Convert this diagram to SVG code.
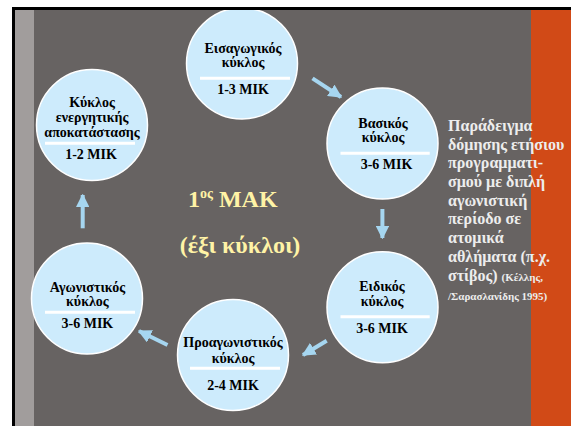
<svg xmlns="http://www.w3.org/2000/svg" width="571" height="426" viewBox="0 0 571 426">
<defs>
<style>
.node circle{fill:#CDEBFC;stroke:#FFFFFF;stroke-width:1.5}
.node line{stroke:#FFFFFF;stroke-width:3}
.nt{font-family:'Liberation Serif','DejaVu Serif',serif;font-weight:bold;font-size:14px;fill:#000;text-anchor:middle}
.ct{font-family:'Liberation Serif','DejaVu Serif',serif;font-weight:bold;fill:#FFF3A6}
.rt{font-family:'Liberation Serif','DejaVu Serif',serif;font-weight:bold;font-size:16px;fill:#EDEDED}
.rs{font-size:11px}
.conn line{stroke:#A6D6F0;stroke-width:4}
</style>
<marker id="ah" viewBox="0 0 10 10" refX="9" refY="5" markerWidth="3.4" markerHeight="3.4" orient="auto" markerUnits="strokeWidth">
<path d="M0,0 L10,5 L0,10 Z" fill="#A6D6F0"/>
</marker>
</defs>
<rect x="0" y="0" width="571" height="426" fill="#FFFFFF"/>
<rect x="15" y="10" width="19" height="416" fill="#A19D9C"/>
<rect x="34" y="10" width="497" height="416" fill="#676362"/>
<rect x="531" y="10" width="40" height="416" fill="#D14A17"/>

<g class="conn">
<line x1="312.5" y1="78.3" x2="341" y2="97" marker-end="url(#ah)"/>
<line x1="382.4" y1="209" x2="382.4" y2="238" marker-end="url(#ah)"/>
<line x1="326.7" y1="340.7" x2="303" y2="355" marker-end="url(#ah)"/>
<line x1="167.5" y1="345" x2="139" y2="331" marker-end="url(#ah)"/>
<line x1="82.7" y1="228.3" x2="82.7" y2="195" marker-end="url(#ah)"/>
</g>

<g id="n1" class="node">
<circle cx="242" cy="63.5" r="55.5"/>
<text class="nt" x="243" y="52.7">Εισαγωγικός</text>
<text class="nt" x="243" y="66.7">κύκλος</text>
<line x1="200" y1="78.3" x2="290" y2="78.3"/>
<text class="nt" x="243" y="94">1-3 ΜΙΚ</text>
</g>
<g id="n2" class="node">
<circle cx="382.5" cy="143.5" r="55.5"/>
<text class="nt" x="383" y="127.7">Βασικός</text>
<text class="nt" x="383" y="141.7">κύκλος</text>
<line x1="340.5" y1="153.3" x2="429.7" y2="153.3"/>
<text class="nt" x="386.5" y="168.5">3-6 ΜΙΚ</text>
</g>
<g id="n3" class="node">
<circle cx="382.5" cy="307.3" r="55.5"/>
<text class="nt" x="382" y="291">Ειδικός</text>
<text class="nt" x="382" y="305.7">κύκλος</text>
<line x1="340.5" y1="316.7" x2="429.7" y2="316.7"/>
<text class="nt" x="382" y="333.3">3-6 ΜΙΚ</text>
</g>
<g id="n4" class="node">
<circle cx="233" cy="355" r="55.5"/>
<text class="nt" x="233" y="346.7">Προαγωνιστικός</text>
<text class="nt" x="233" y="362.7">κύκλος</text>
<line x1="190" y1="368.3" x2="280" y2="368.3"/>
<text class="nt" x="233" y="390">2-4 ΜΙΚ</text>
</g>
<g id="n5" class="node">
<circle cx="87" cy="298.5" r="55.5"/>
<text class="nt" x="87.4" y="291.7">Αγωνιστικός</text>
<text class="nt" x="87.4" y="306">κύκλος</text>
<line x1="45" y1="312.3" x2="135" y2="312.3"/>
<text class="nt" x="87.4" y="328.3">3-6 ΜΙΚ</text>
</g>
<g id="n6" class="node">
<circle cx="92" cy="125" r="55.5"/>
<text class="nt" x="92" y="106.7">Κύκλος</text>
<text class="nt" x="92" y="121.7">ενεργητικής</text>
<text class="nt" x="92" y="136.7">αποκατάστασης</text>
<line x1="45" y1="143.3" x2="135" y2="143.3"/>
<text class="nt" x="91" y="159.3">1-2 ΜΙΚ</text>
</g>

<g id="center">
<text class="ct" x="188" y="207" font-size="24">1<tspan font-size="14" dy="-9">ος</tspan><tspan dy="9"> ΜΑΚ</tspan></text>
<text class="ct" x="240" y="253" font-size="24" text-anchor="middle">(έξι κύκλοι)</text>
</g>

<g id="note">
<text class="rt" x="448" y="131">Παράδειγμα</text>
<text class="rt" x="448" y="149.5">δόμησης ετήσιου</text>
<text class="rt" x="448" y="168">προγραμματι-</text>
<text class="rt" x="448" y="186.7">σμού με διπλή</text>
<text class="rt" x="448" y="205.5">αγωνιστική</text>
<text class="rt" x="448" y="224">περίοδο σε</text>
<text class="rt" x="448" y="242.5">ατομικά</text>
<text class="rt" x="448" y="261.5">αθλήματα (π.χ.</text>
<text class="rt" x="448" y="280.5">στίβος) <tspan class="rs">(Κέλλης,</tspan></text>
<text class="rt rs" x="448" y="300">/Σαρασλανίδης 1995)</text>
</g>

<rect x="12" y="7" width="559" height="3" fill="#000"/>
<rect x="12" y="7" width="3" height="419" fill="#000"/>
</svg>
